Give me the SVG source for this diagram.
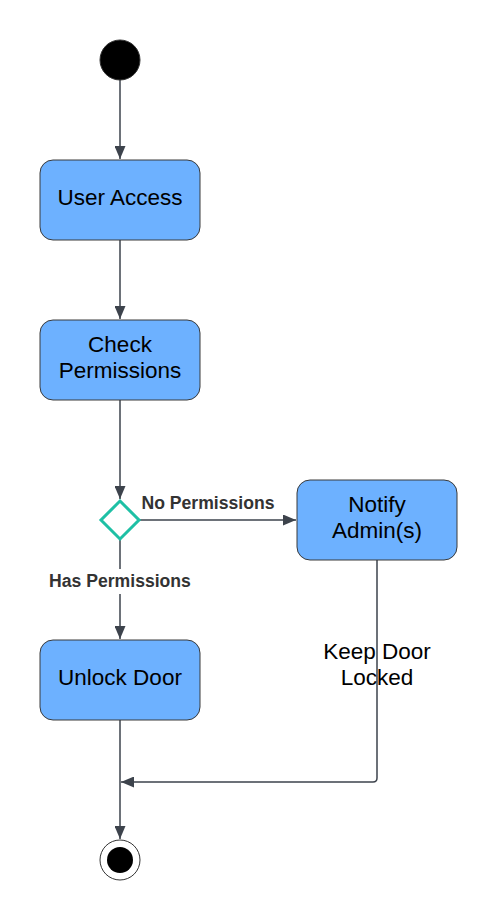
<svg xmlns="http://www.w3.org/2000/svg" width="497" height="920" viewBox="0 0 497 920">
<style>
.box{fill:#6db1ff;stroke:#3a3a3a;stroke-width:1}
.t{font-family:"Liberation Sans",Arial,sans-serif;font-size:22.5px;fill:#000;text-anchor:middle}
.lbl{font-family:"Liberation Sans",Arial,sans-serif;font-size:17.6px;font-weight:bold;fill:#333;text-anchor:middle}
.c{fill:none;stroke:#3d434c;stroke-width:1.5}
</style>
<defs>
<marker id="ah" markerWidth="13" markerHeight="11" refX="13" refY="5.5" orient="auto" markerUnits="userSpaceOnUse">
<path d="M0,0 L13,5.5 L0,11 Z" fill="#3d434c"/>
</marker>
</defs>
<rect width="497" height="920" fill="#fff"/>
<g id="connectors">
<path class="c" d="M120,80 V159" marker-end="url(#ah)"/>
<path class="c" d="M120,240 V319" marker-end="url(#ah)"/>
<path class="c" d="M120,400 V499" marker-end="url(#ah)"/>
<path class="c" d="M140,520 H296" marker-end="url(#ah)"/>
<path class="c" d="M120,540 V639" marker-end="url(#ah)"/>
<path class="c" d="M120,720 V839" marker-end="url(#ah)"/>
<path class="c" d="M377,560 V778 Q377,782 373,782 H121" marker-end="url(#ah)"/>
<text class="lbl" x="208" y="509">No Permissions</text>
<rect x="48" y="569" width="145" height="25" fill="#fff"/>
<text class="lbl" x="120" y="587">Has Permissions</text>
<text class="t" x="377" y="659">Keep Door</text>
<text class="t" x="377" y="685">Locked</text>
</g>
<g id="start"><circle cx="120" cy="60" r="20" fill="#000" stroke="#333" stroke-width="1"/></g>
<g id="user-access"><rect class="box" x="40" y="160" width="160" height="80" rx="13"/><text class="t" x="120" y="205">User Access</text></g>
<g id="check-permissions"><rect class="box" x="40" y="320" width="160" height="80" rx="13"/><text class="t" x="120" y="352">Check</text><text class="t" x="120" y="378">Permissions</text></g>
<g id="decision"><path d="M120,501 L139,520 L120,539 L101,520 Z" fill="#fff" stroke="#1ec0a5" stroke-width="3"/></g>
<g id="notify-admin"><rect class="box" x="297" y="480" width="160" height="80" rx="13"/><text class="t" x="377" y="512">Notify</text><text class="t" x="377" y="538">Admin(s)</text></g>
<g id="unlock-door"><rect class="box" x="40" y="640" width="160" height="80" rx="13"/><text class="t" x="120" y="685">Unlock Door</text></g>
<g id="end"><circle cx="120" cy="860" r="20" fill="#fff" stroke="#333" stroke-width="1"/><circle cx="120" cy="860" r="13" fill="#000"/></g>
</svg>
